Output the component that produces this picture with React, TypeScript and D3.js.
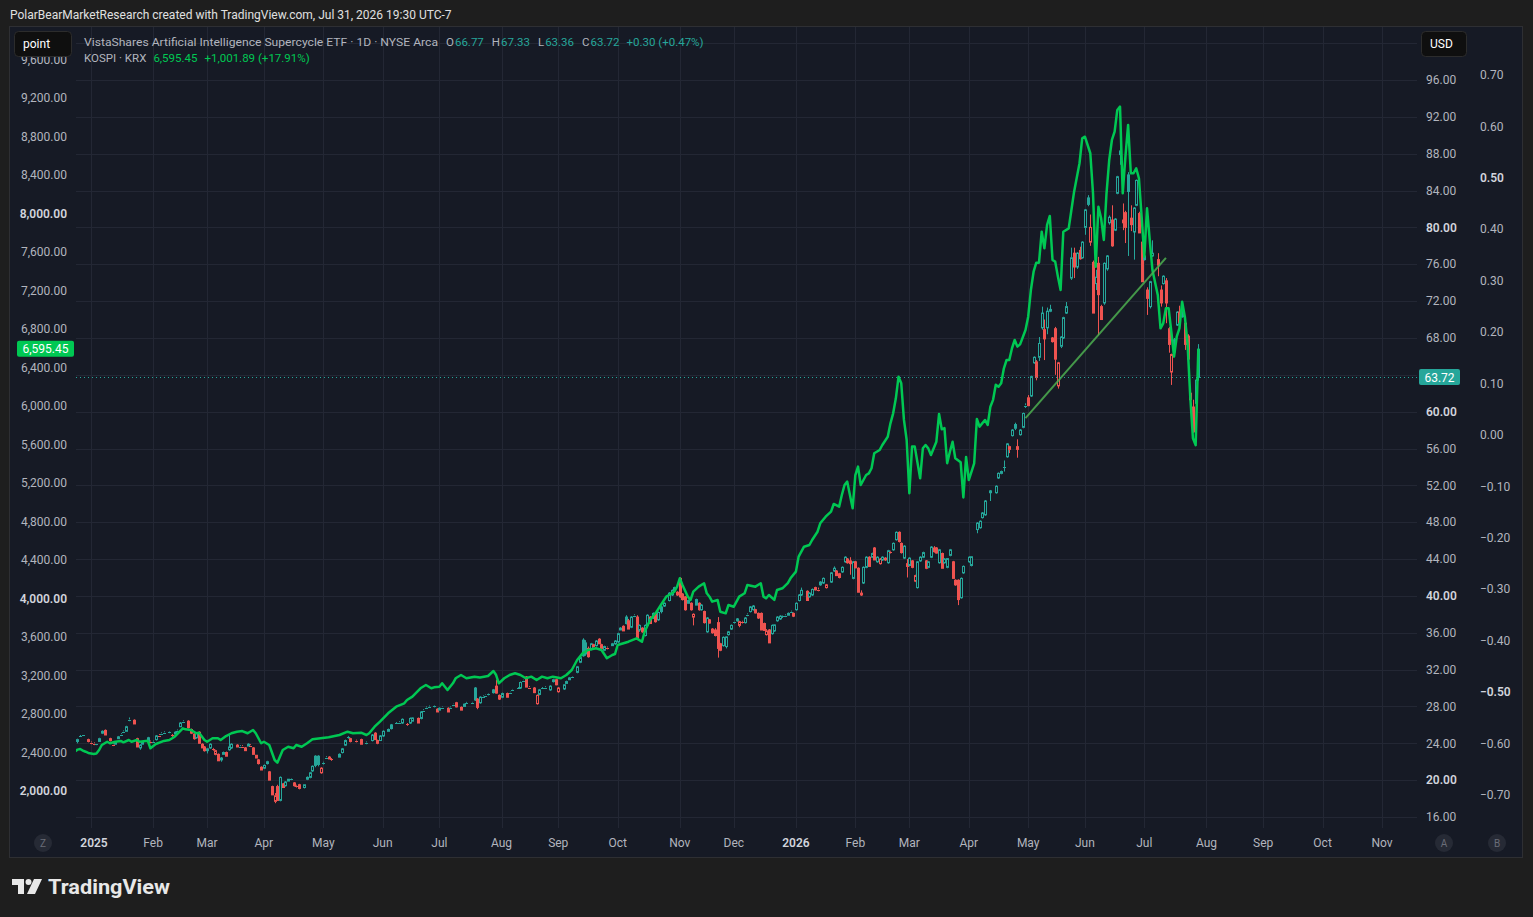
"use client";

import * as d3 from "d3";
import { useEffect, useRef } from "react";

// ETF daily bars: [session, open, high, low, close]
// session = weekday count from 2025-01-01 (bar position on the time axis)
const etfCandles: [number, number, number, number, number][] = [
  [-5, 24.2, 24.5, 24.0, 24.4], [-4, 24.7, 24.9, 24.7, 24.8], [-3, 24.8, 24.9, 24.8, 24.9],
  [-1, 24.4, 24.5, 24.1, 24.2], [0, 24.1, 24.2, 23.9, 24.0], [1, 24.0, 24.1, 23.8, 23.9],
  [2, 23.9, 24.0, 23.8, 24.0], [3, 24.2, 24.6, 24.2, 24.5], [4, 25.1, 25.4, 25.0, 25.3],
  [5, 25.4, 25.5, 24.9, 24.9], [7, 24.5, 24.6, 24.2, 24.3], [8, 23.9, 24.0, 23.7, 23.8],
  [9, 23.9, 24.2, 23.9, 24.1], [10, 24.5, 24.8, 24.5, 24.7], [11, 24.9, 25.1, 24.9, 25.0],
  [12, 25.2, 25.4, 25.2, 25.3], [13, 25.3, 25.9, 25.3, 25.8], [14, 26.5, 26.8, 26.4, 26.6],
  [16, 26.5, 26.6, 26.1, 26.1], [17, 24.5, 24.6, 23.6, 23.6], [18, 23.5, 23.9, 23.3, 23.8],
  [19, 23.9, 24.2, 23.9, 24.1], [21, 24.6, 24.7, 24.2, 24.2], [22, 24.2, 24.3, 24.0, 24.1],
  [23, 24.1, 24.3, 24.1, 24.2], [24, 24.4, 24.9, 24.3, 24.8], [25, 24.9, 25.0, 24.7, 24.75],
  [26, 25.1, 25.2, 24.9, 25.0], [27, 25.1, 25.3, 25.1, 25.2], [29, 25.2, 25.3, 25.1, 25.25],
  [30, 24.9, 25.0, 24.7, 24.8], [31, 25.0, 25.3, 25.0, 25.2], [32, 25.3, 25.5, 25.3, 25.4],
  [33, 25.8, 26.3, 25.8, 26.2], [34, 26.4, 26.5, 26.2, 26.3], [36, 26.4, 26.5, 25.6, 25.7],
  [37, 25.5, 25.6, 25.0, 25.1], [38, 25.0, 25.1, 24.4, 24.5], [39, 24.6, 25.2, 24.5, 25.1],
  [40, 25.2, 25.3, 24.0, 24.0], [41, 23.9, 24.0, 23.5, 23.5], [42, 23.6, 23.7, 23.1, 23.2],
  [43, 23.2, 23.5, 22.9, 23.4], [44, 23.5, 24.0, 23.4, 23.9], [45, 23.4, 23.5, 23.2, 23.3],
  [46, 22.8, 23.3, 22.7, 23.2], [47, 22.8, 22.9, 22.1, 22.1], [48, 22.2, 22.5, 22.0, 22.4],
  [49, 22.8, 23.1, 22.8, 23.0], [50, 23.0, 23.1, 22.6, 22.6], [51, 23.3, 24.9, 23.2, 23.6],
  [52, 23.5, 24.0, 23.4, 23.9], [54, 23.8, 23.9, 23.6, 23.6], [55, 23.6, 23.8, 23.6, 23.7],
  [56, 23.7, 23.8, 23.5, 23.55], [57, 23.5, 23.6, 23.2, 23.2], [58, 23.7, 24.0, 23.7, 23.9],
  [59, 23.8, 23.9, 23.6, 23.7], [60, 23.5, 23.6, 22.8, 22.8], [61, 22.7, 22.7, 22.4, 22.4],
  [62, 22.2, 22.3, 21.7, 21.8], [63, 21.4, 21.5, 21.1, 21.1], [64, 21.3, 21.7, 21.2, 21.6],
  [65, 21.8, 22.1, 21.7, 22.0], [66, 20.9, 21.0, 20.0, 20.0], [67, 19.3, 19.4, 18.4, 18.4],
  [68, 17.7, 18.6, 17.5, 18.3], [69, 19.3, 19.5, 17.8, 17.8], [70, 17.8, 20.4, 17.7, 20.3],
  [71, 19.6, 19.7, 19.2, 19.2], [72, 19.4, 19.9, 19.3, 19.8], [73, 19.9, 20.1, 19.9, 20.1],
  [74, 20.1, 20.2, 20.0, 20.15], [75, 19.7, 19.8, 19.3, 19.4], [76, 19.4, 19.5, 19.2, 19.35],
  [77, 19.5, 19.6, 19.0, 19.1], [79, 19.2, 19.5, 19.1, 19.5], [80, 20.1, 20.4, 20.0, 20.3],
  [81, 20.3, 20.9, 20.2, 20.8], [82, 21.0, 21.6, 20.9, 21.5], [83, 22.6, 22.7, 21.4, 21.6],
  [84, 22.6, 22.7, 21.5, 21.7], [85, 20.8, 21.4, 20.7, 21.3], [86, 21.8, 22.0, 21.7, 21.9],
  [87, 22.4, 22.6, 22.4, 22.5], [88, 22.5, 22.6, 22.3, 22.3], [89, 22.3, 22.4, 22.1, 22.2],
  [92, 22.8, 22.9, 22.5, 22.5], [93, 23.0, 23.5, 22.9, 23.4], [94, 23.8, 24.4, 23.7, 24.3],
  [95, 24.6, 24.8, 24.5, 24.7], [96, 24.5, 24.6, 24.1, 24.2], [98, 24.3, 24.4, 24.1, 24.15],
  [100, 24.4, 24.5, 23.9, 23.9], [102, 24.1, 24.2, 23.9, 24.0], [104, 24.3, 25.0, 24.2, 24.9],
  [105, 25.1, 25.2, 24.4, 24.4], [106, 24.3, 24.4, 23.9, 24.0], [107, 24.3, 24.9, 24.3, 24.8],
  [108, 24.8, 25.4, 24.7, 25.3], [110, 25.3, 25.6, 25.3, 25.5], [111, 26.0, 26.1, 25.5, 25.6],
  [113, 26.1, 26.3, 26.1, 26.2], [114, 26.2, 26.4, 26.2, 26.3], [115, 26.2, 26.7, 26.1, 26.6],
  [117, 26.1, 26.2, 25.9, 26.0], [118, 26.2, 26.8, 26.1, 26.7], [119, 26.4, 26.8, 26.4, 26.75],
  [121, 26.7, 26.8, 26.2, 26.2], [122, 26.7, 27.5, 26.6, 27.4], [123, 27.5, 27.7, 27.5, 27.6],
  [124, 27.8, 28.0, 27.8, 27.9], [125, 27.9, 28.1, 27.9, 28.0], [127, 28.0, 28.1, 27.9, 28.05],
  [128, 27.7, 27.8, 27.4, 27.4], [129, 27.6, 27.9, 27.6, 27.8], [130, 27.8, 28.0, 27.8, 27.95],
  [132, 27.8, 27.9, 27.4, 27.4], [133, 27.8, 28.0, 27.8, 27.9], [134, 28.1, 28.3, 28.1, 28.25],
  [135, 28.4, 28.5, 27.9, 27.95], [137, 27.9, 28.0, 27.6, 27.6], [138, 28.0, 28.3, 28.0, 28.25],
  [139, 28.3, 28.5, 28.3, 28.4], [141, 28.4, 28.5, 28.3, 28.45], [142, 30.0, 30.1, 28.6, 28.7],
  [143, 28.8, 28.9, 27.7, 27.9], [144, 28.4, 29.1, 28.3, 29.0], [145, 29.0, 29.2, 29.0, 29.1],
  [146, 29.1, 29.3, 29.1, 29.25], [147, 29.25, 29.4, 29.2, 29.35], [149, 29.8, 29.9, 29.4, 29.5],
  [150, 30.2, 30.9, 29.4, 29.45], [151, 29.2, 29.3, 28.7, 28.8], [152, 29.0, 29.5, 28.9, 29.4],
  [154, 29.4, 29.5, 29.0, 29.0], [155, 29.4, 29.6, 29.4, 29.55], [156, 29.7, 29.9, 29.7, 29.85],
  [158, 29.9, 30.1, 29.9, 30.0], [159, 30.0, 30.7, 29.9, 30.6], [160, 30.7, 30.9, 30.7, 30.85],
  [161, 31.2, 31.3, 30.1, 30.1], [162, 30.1, 30.2, 29.9, 30.0], [164, 30.0, 30.1, 29.45, 29.5],
  [165, 28.3, 29.3, 28.2, 29.2], [166, 29.3, 29.9, 29.2, 29.8], [167, 29.9, 30.1, 29.9, 30.0],
  [168, 30.0, 30.2, 30.0, 30.1], [170, 29.8, 30.3, 29.7, 30.2], [171, 30.7, 31.0, 30.6, 30.9],
  [172, 30.9, 31.0, 30.3, 30.35], [173, 29.6, 30.1, 29.5, 30.0], [175, 29.9, 30.4, 29.8, 30.35],
  [176, 30.5, 30.8, 30.5, 30.7], [177, 30.9, 31.2, 30.9, 31.1], [178, 31.1, 31.3, 31.1, 31.25],
  [180, 31.7, 32.4, 31.6, 32.3], [181, 32.8, 33.4, 32.7, 33.3], [182, 35.2, 35.4, 33.4, 33.5],
  [183, 34.9, 35.2, 33.5, 33.7], [184, 34.3, 34.5, 33.3, 33.4], [185, 34.2, 34.9, 34.1, 34.8],
  [186, 34.7, 34.8, 34.4, 34.5], [187, 34.6, 35.2, 34.5, 35.1], [188, 35.3, 35.4, 34.8, 34.8],
  [189, 34.7, 34.8, 34.3, 34.3], [190, 34.1, 34.6, 34.0, 34.5], [191, 34.4, 34.5, 34.2, 34.3],
  [193, 34.6, 34.9, 34.6, 34.8], [194, 34.8, 35.2, 34.7, 35.1], [195, 35.0, 36.0, 34.9, 35.9],
  [196, 36.3, 36.6, 36.3, 36.5], [197, 36.7, 36.8, 36.2, 36.2], [198, 37.7, 37.9, 36.9, 37.0],
  [199, 37.3, 37.5, 36.4, 36.4], [200, 36.6, 37.8, 36.5, 37.7], [201, 37.8, 38.0, 37.7, 37.9],
  [202, 37.7, 37.9, 35.4, 35.4], [203, 36.3, 36.9, 36.1, 36.8], [204, 36.5, 36.6, 36.0, 36.1],
  [205, 35.7, 36.9, 35.6, 36.8], [206, 36.8, 38.0, 36.7, 37.9], [207, 37.7, 37.8, 37.0, 37.0],
  [208, 37.6, 38.2, 37.5, 38.1], [209, 38.1, 38.2, 37.1, 37.2], [210, 37.4, 38.3, 37.3, 38.2],
  [211, 38.8, 38.9, 38.1, 38.3], [212, 38.9, 39.3, 38.8, 39.2], [214, 39.5, 40.4, 39.4, 40.3],
  [215, 40.1, 40.7, 40.0, 40.6], [216, 40.6, 41.0, 40.5, 40.9], [217, 40.4, 40.5, 40.0, 40.1],
  [218, 41.9, 42.0, 39.8, 39.9], [219, 40.2, 40.3, 39.5, 39.6], [220, 39.9, 40.0, 38.4, 38.5],
  [221, 39.5, 39.6, 39.2, 39.2], [222, 39.2, 39.3, 38.4, 38.5], [223, 37.7, 38.1, 36.8, 38.0],
  [224, 39.6, 39.7, 39.0, 39.0], [225, 39.2, 39.3, 38.4, 38.5], [226, 38.5, 39.1, 38.4, 39.0],
  [227, 38.3, 38.4, 37.0, 37.1], [228, 36.1, 37.7, 36.0, 37.6], [229, 37.4, 37.5, 37.0, 37.05],
  [230, 36.4, 36.5, 35.9, 36.0], [231, 36.3, 36.5, 35.6, 35.7], [232, 37.1, 37.7, 33.3, 34.3],
  [233, 34.8, 34.9, 34.0, 34.1], [234, 34.6, 35.6, 34.5, 35.5], [235, 34.5, 35.6, 34.3, 35.55],
  [236, 35.8, 36.2, 35.7, 36.1], [237, 36.4, 36.9, 36.3, 36.8], [238, 37.1, 37.3, 37.0, 37.25],
  [239, 37.5, 37.6, 37.2, 37.3], [240, 36.8, 37.3, 36.6, 37.2], [241, 37.2, 37.3, 37.0, 37.05],
  [242, 37.1, 37.7, 37.0, 37.6], [243, 37.9, 38.1, 37.8, 38.0], [244, 38.3, 38.9, 38.2, 38.8],
  [245, 38.5, 39.0, 38.4, 38.9], [246, 38.5, 38.6, 38.1, 38.15], [247, 38.1, 38.2, 37.5, 37.6],
  [248, 38.1, 38.2, 36.3, 36.3], [249, 37.0, 37.1, 36.2, 36.25], [250, 35.8, 36.4, 35.7, 36.2],
  [251, 36.3, 36.4, 34.9, 34.9], [252, 35.9, 36.9, 35.8, 36.8], [253, 36.2, 36.9, 36.1, 36.85],
  [254, 37.3, 37.8, 37.2, 37.7], [255, 37.5, 37.9, 37.4, 37.8], [256, 37.7, 37.9, 37.6, 37.85],
  [257, 37.8, 38.0, 37.7, 37.9], [258, 37.9, 38.2, 37.9, 38.1], [259, 38.2, 38.4, 38.2, 38.3],
  [260, 38.1, 38.2, 37.7, 37.8], [261, 38.5, 39.3, 38.4, 39.2], [262, 39.5, 40.2, 39.4, 40.1],
  [263, 40.1, 40.9, 40.0, 40.6], [265, 40.5, 40.6, 39.5, 39.5], [266, 39.9, 40.4, 39.8, 40.3],
  [267, 40.1, 40.8, 40.0, 40.7], [268, 40.9, 41.0, 40.6, 40.65], [269, 40.7, 40.9, 40.5, 40.6],
  [270, 41.5, 41.6, 41.1, 41.2], [271, 41.4, 42.0, 41.3, 41.9], [272, 40.9, 41.3, 40.8, 41.2],
  [274, 41.5, 42.6, 41.4, 42.5], [275, 42.7, 43.2, 42.6, 43.0], [276, 42.7, 42.8, 42.2, 42.2],
  [277, 42.4, 42.5, 41.9, 42.0], [278, 42.6, 43.2, 42.5, 43.1], [279, 43.7, 44.3, 43.6, 44.2],
  [280, 44.0, 44.1, 43.5, 43.6], [281, 43.8, 44.2, 42.3, 43.5], [282, 41.9, 43.8, 41.8, 43.7],
  [283, 43.7, 43.8, 43.0, 43.05], [284, 43.0, 43.1, 40.4, 40.4], [285, 40.1, 40.6, 40.0, 40.3],
  [286, 41.4, 43.2, 41.3, 43.1], [287, 43.1, 44.3, 43.0, 44.2], [288, 44.2, 44.3, 43.2, 43.2],
  [289, 44.2, 44.7, 44.1, 44.6], [290, 45.2, 45.3, 43.9, 43.9], [291, 43.7, 44.3, 43.6, 44.2],
  [292, 43.5, 44.1, 43.4, 44.0], [293, 43.9, 44.3, 43.8, 44.2], [294, 44.1, 44.2, 43.8, 43.9],
  [295, 43.6, 45.0, 43.5, 44.9], [296, 44.8, 44.9, 44.6, 44.7], [297, 45.0, 45.8, 44.9, 45.7],
  [298, 46.1, 47.0, 46.0, 46.9], [299, 46.9, 47.0, 45.8, 45.9], [300, 45.7, 45.8, 44.6, 44.7],
  [301, 44.1, 45.5, 44.0, 45.4], [302, 43.5, 44.0, 42.0, 43.2], [303, 43.3, 44.2, 43.2, 44.1],
  [304, 43.8, 43.9, 43.0, 43.1], [305, 41.6, 42.3, 41.5, 42.2], [306, 40.9, 43.8, 40.8, 43.7],
  [307, 43.8, 44.3, 43.7, 44.2], [308, 44.2, 44.8, 44.1, 44.7], [309, 43.8, 43.9, 42.9, 43.0],
  [310, 43.1, 43.8, 43.0, 43.7], [311, 44.2, 45.4, 44.1, 45.3], [312, 45.2, 45.4, 44.7, 44.8],
  [313, 45.2, 45.3, 44.6, 44.65], [314, 43.6, 45.1, 43.5, 45.0], [315, 44.6, 44.7, 43.0, 43.0],
  [316, 43.6, 44.1, 43.5, 44.0], [317, 43.1, 44.1, 43.0, 44.05], [318, 44.4, 45.1, 44.3, 45.0],
  [319, 43.7, 43.8, 41.9, 41.9], [320, 41.7, 41.8, 41.1, 41.2], [321, 41.7, 41.8, 39.0, 39.6],
  [322, 39.8, 42.0, 39.7, 41.9], [323, 42.5, 43.3, 42.4, 43.2], [325, 43.7, 44.3, 43.6, 44.2],
  [326, 43.3, 44.3, 43.2, 44.25], [328, 47.2, 48.0, 46.8, 47.9], [329, 47.4, 48.2, 47.3, 48.1],
  [330, 48.5, 49.1, 48.4, 49.0], [331, 48.8, 50.4, 48.7, 50.3], [333, 51.4, 51.5, 50.3, 51.2],
  [335, 51.2, 52.0, 51.1, 51.9], [336, 52.8, 53.4, 52.7, 53.3], [337, 53.3, 53.6, 53.2, 53.5],
  [338, 53.9, 54.7, 53.5, 54.0], [339, 55.1, 56.6, 55.0, 56.5], [340, 55.9, 56.3, 55.5, 56.2],
  [341, 57.4, 58.1, 57.3, 58.0], [342, 58.6, 58.8, 58.0, 58.2], [343, 56.2, 57.0, 55.0, 55.9],
  [344, 57.5, 58.1, 57.4, 58.0], [345, 58.3, 59.9, 58.2, 59.8], [346, 60.6, 60.9, 60.4, 60.7],
  [347, 61.5, 61.8, 60.6, 60.65], [348, 61.7, 63.9, 61.6, 63.8], [349, 65.3, 66.0, 65.2, 65.9],
  [350, 65.4, 65.6, 63.4, 63.7], [351, 65.9, 68.1, 65.5, 67.4], [352, 69.1, 71.4, 68.9, 70.7],
  [353, 68.9, 70.0, 65.6, 67.9], [354, 69.1, 71.3, 68.4, 70.9], [355, 70.9, 71.6, 70.8, 71.1],
  [356, 68.0, 68.1, 67.5, 67.6], [357, 69.0, 69.2, 64.0, 65.7], [358, 62.8, 65.4, 62.5, 65.3],
  [359, 67.1, 68.2, 66.9, 68.1], [360, 68.0, 70.3, 67.9, 70.2], [361, 70.7, 71.9, 70.6, 71.4],
  [363, 74.5, 77.8, 74.3, 76.7], [364, 77.2, 77.8, 74.5, 75.7], [365, 75.7, 77.3, 75.5, 77.2],
  [366, 77.5, 77.9, 76.5, 76.6], [367, 76.7, 78.5, 76.6, 78.4], [368, 80.0, 82.0, 79.2, 81.9],
  [369, 83.2, 83.5, 82.3, 82.5], [370, 78.4, 81.4, 78.0, 80.0], [371, 76.2, 76.4, 70.7, 70.7],
  [372, 73.9, 75.4, 73.2, 74.6], [373, 76.1, 76.8, 68.3, 72.7], [374, 71.4, 71.6, 70.0, 70.0],
  [375, 71.8, 76.2, 71.6, 76.1], [376, 75.5, 77.0, 75.3, 76.9], [377, 80.5, 81.3, 80.3, 81.1],
  [378, 80.8, 82.4, 77.9, 78.0], [379, 79.7, 81.0, 79.6, 80.9], [380, 83.7, 85.6, 83.6, 85.5],
  [381, 88.3, 88.8, 86.8, 87.9], [382, 80.8, 82.6, 79.7, 80.5], [383, 81.6, 81.8, 78.3, 80.0],
  [384, 85.7, 86.0, 76.9, 83.9], [385, 81.0, 82.4, 79.6, 80.3], [386, 79.5, 82.2, 76.5, 82.1],
  [387, 82.4, 85.2, 82.3, 85.1], [388, 81.5, 81.7, 79.4, 79.4], [389, 78.4, 78.6, 74.1, 74.1],
  [390, 76.9, 78.7, 76.4, 76.5], [391, 73.2, 73.5, 70.5, 72.3], [392, 71.4, 74.2, 71.2, 74.1],
  [393, 76.9, 78.6, 76.8, 77.2], [395, 76.5, 77.2, 74.7, 75.9], [396, 73.2, 73.7, 71.4, 71.8],
  [397, 73.9, 74.8, 73.8, 74.7], [398, 74.2, 74.5, 69.6, 71.8], [399, 69.0, 69.2, 66.4, 67.3],
  [400, 64.3, 66.3, 62.9, 66.2], [401, 67.8, 68.0, 66.5, 66.5], [402, 69.4, 70.9, 69.3, 70.8],
  [403, 70.8, 71.5, 69.2, 69.7], [404, 70.8, 71.0, 70.2, 70.3], [405, 69.6, 69.9, 66.7, 67.3],
  [406, 68.2, 68.4, 64.2, 65.7], [407, 62.0, 62.3, 61.3, 61.3], [408, 60.5, 61.3, 57.7, 57.8],
  [409, 60.9, 63.6, 60.5, 63.42], [410, 66.77, 67.33, 63.36, 63.72],
];

// KOSPI closes: [session, close]
const kospiCloses: [number, number][] = [
  [-6, 2410], [-5, 2430], [-4, 2436], [-3, 2420], [-2, 2408], [-1, 2395], [1, 2385], [2, 2390],
  [3, 2426], [4, 2478], [6, 2512], [7, 2496], [9, 2512], [11, 2520], [12, 2506], [14, 2530],
  [15, 2512], [17, 2530], [18, 2512], [21, 2523], [22, 2444], [24, 2488], [27, 2520], [29, 2530],
  [31, 2564], [34, 2651], [35, 2641], [37, 2634], [39, 2600], [40, 2606], [42, 2530], [43, 2512],
  [45, 2548], [47, 2548], [48, 2530], [50, 2571], [52, 2600], [54, 2616], [56, 2623], [58, 2600],
  [60, 2634], [61, 2600], [63, 2496], [64, 2512], [66, 2478], [68, 2322], [69, 2294], [71, 2426],
  [73, 2460], [75, 2444], [76, 2478], [78, 2460], [80, 2496], [82, 2537], [85, 2548], [88, 2558],
  [92, 2582], [95, 2616], [97, 2600], [100, 2606], [102, 2582], [103, 2600], [105, 2668], [107, 2720],
  [110, 2807], [113, 2876], [116, 2911], [117, 2946], [119, 2980], [122, 3067], [124, 3101], [126, 3067],
  [127, 3077], [129, 3084], [130, 3119], [132, 3049], [134, 3119], [135, 3171], [137, 3205], [139, 3171],
  [142, 3188], [144, 3180], [147, 3195], [149, 3247], [150, 3205], [151, 3119], [153, 3171], [155, 3205],
  [157, 3223], [159, 3205], [161, 3171], [163, 3188], [165, 3153], [167, 3188], [169, 3171], [171, 3188],
  [174, 3171], [176, 3205], [178, 3257], [180, 3361], [182, 3430], [184, 3465], [187, 3483], [189, 3465],
  [190, 3423], [191, 3379], [193, 3413], [194, 3423], [195, 3517], [199, 3551], [202, 3586], [204, 3551],
  [205, 3655], [207, 3777], [209, 3846], [211, 3932], [213, 4019], [214, 4036], [216, 4071], [217, 4123],
  [218, 4210], [219, 4140], [221, 4019], [222, 3985], [223, 4071], [225, 4123], [227, 4158], [228, 4054],
  [229, 4019], [230, 3967], [232, 3985], [233, 3863], [235, 3846], [236, 3932], [238, 3915], [240, 4019],
  [242, 4054], [243, 4140], [246, 4123], [248, 4158], [249, 4019], [250, 4002], [251, 4036], [253, 3985],
  [254, 4088], [256, 4106], [258, 4160], [259, 4210], [261, 4279], [262, 4435], [264, 4538], [266, 4556],
  [267, 4608], [269, 4694], [270, 4781], [272, 4850], [274, 4902], [275, 4982], [277, 4954], [278, 5075],
  [279, 5179], [280, 5214], [282, 4937], [283, 5283], [284, 5370], [285, 5179], [287, 5283], [288, 5300],
  [289, 5353], [290, 5509], [292, 5543], [293, 5595], [295, 5681], [296, 5820], [297, 5924], [298, 6080],
  [299, 6305], [300, 6236], [301, 5855], [302, 5647], [303, 5093], [304, 5578], [305, 5578], [307, 5249],
  [308, 5561], [309, 5595], [310, 5560], [311, 5491], [313, 5629], [314, 5917], [315, 5758], [316, 5770],
  [317, 5405], [318, 5525], [319, 5629], [320, 5457], [322, 5415], [323, 5050], [324, 5470], [325, 5231],
  [327, 5405], [328, 5865], [329, 5786], [331, 5855], [332, 5803], [333, 5993], [334, 6064], [335, 6220],
  [336, 6200], [337, 6236], [338, 6392], [339, 6478], [340, 6478], [341, 6600], [342, 6686], [343, 6617],
  [344, 6640], [346, 6790], [347, 6928], [348, 7205], [349, 7395], [350, 7489], [351, 7489], [352, 7811],
  [353, 7638], [354, 7881], [355, 7975], [356, 7517], [357, 7500], [358, 7344], [359, 7205], [360, 7811],
  [362, 7846], [363, 8036], [364, 8227], [366, 8522], [367, 8781], [368, 8798], [370, 8626], [371, 8210],
  [372, 7448], [373, 8071], [374, 7950], [375, 7725], [376, 8210], [377, 8556], [378, 8764], [379, 8850],
  [380, 9076], [381, 9110], [382, 8210], [383, 8590], [384, 8920], [385, 8418], [386, 8418], [387, 8470],
  [388, 8366], [389, 7967], [390, 7552], [391, 8054], [392, 7725], [393, 7413], [395, 7150], [396, 6807],
  [397, 6859], [398, 7015], [399, 7015], [400, 6772], [401, 6513], [402, 6721], [403, 6807], [404, 7084],
  [405, 6928], [406, 6651], [407, 6100], [408, 5665], [409, 5593.56], [410, 6595.45],
];

// hand-drawn trend line on the ETF: [session, price]
const trendLine: [number, number][] = [[346, 59.3], [398, 76.7]];

const monthStarts = [
  "2025-01-01", "2025-02-01", "2025-03-01", "2025-04-01", "2025-05-01", "2025-06-01",
  "2025-07-01", "2025-08-01", "2025-09-01", "2025-10-01", "2025-11-01", "2025-12-01",
  "2026-01-01", "2026-02-01", "2026-03-01", "2026-04-01", "2026-05-01", "2026-06-01",
  "2026-07-01", "2026-08-01", "2026-09-01", "2026-10-01", "2026-11-01",
];
const kospiTicks = [2000, 2400, 2800, 3200, 3600, 4000, 4400, 4800, 5200, 5600, 6000, 6400, 6800, 7200, 7600, 8000, 8400, 8800, 9200, 9600];
const usdTicks = [16, 20, 24, 28, 32, 36, 40, 44, 48, 52, 56, 60, 64, 68, 72, 76, 80, 84, 88, 92, 96, 100];
const pctTicks = [0.7, 0.6, 0.5, 0.4, 0.3, 0.2, 0.1, 0, -0.1, -0.2, -0.3, -0.4, -0.5, -0.6, -0.7];

const credit = "PolarBearMarketResearch created with TradingView.com, Jul 31, 2026 19:30 UTC-7";
const etfTitle = "VistaShares Artificial Intelligence Supercycle ETF · 1D · NYSE Arca";
const kospiTitle = "KOSPI · KRX";

const W = 1533;
const H = 917;
const plot = { left: 76, top: 27, right: 1417, bottom: 830 };
const FONT = "Roboto, 'Noto Sans', sans-serif";
const BG = "#1e1e1e";
const CHART_BG = "#161a25";
const GRID = "#232734";
const TEXT = "#b2b5be";
const UP = "#26a69a";
const DOWN = "#ef5350";
const GREEN = "#00c853";

const origin = new Date(Date.UTC(2025, 0, 1));
const isWeekday = (d: Date) => d.getUTCDay() % 6 !== 0;
function sessionOf(iso: string) {
  let d = new Date(iso + "T00:00:00Z");
  while (!isWeekday(d)) d = d3.utcDay.offset(d, 1);
  return d3.utcDay.range(origin, d).filter(isWeekday).length;
}

export default function App() {
  const ref = useRef<SVGSVGElement | null>(null);

  useEffect(() => {
    document.body.style.margin = "0";
    const svg = d3.select(ref.current!);
    svg.selectAll("*").remove();
    svg.attr("width", W).attr("height", H).style("display", "block").style("font-family", FONT);

    // Scales
    const x = d3
      .scaleLinear()
      .domain([sessionOf("2025-01-01"), sessionOf("2026-11-01")])
      .range([91, 1382]);
    const yUsd = d3.scaleLinear().domain([16, 96]).range([817, 80]);
    const yKospi = d3.scaleLinear().domain([2000, 9200]).range([791, 98]);
    const yPct = d3.scaleLinear().domain([-0.7, 0.7]).range([795, 75]);

    const fmt2 = d3.format(",.2f");
    const last = etfCandles[etfCandles.length - 1];
    const prevEtf = etfCandles[etfCandles.length - 2][4];
    const kLast = kospiCloses[kospiCloses.length - 1][1];
    const kPrev = kospiCloses[kospiCloses.length - 2][1];

    // Background and frame
    svg.append("rect").attr("width", W).attr("height", H).attr("fill", BG);
    svg
      .append("text")
      .attr("x", 10)
      .attr("y", 19)
      .attr("fill", "#e0e0e0")
      .attr("font-size", 12)
      .text(credit);
    svg
      .append("rect")
      .attr("x", 9.5)
      .attr("y", 26.5)
      .attr("width", 1513)
      .attr("height", 831)
      .attr("fill", CHART_BG)
      .attr("stroke", "#2e2f33");

    svg
      .append("defs")
      .append("clipPath")
      .attr("id", "plot-clip")
      .append("rect")
      .attr("x", plot.left)
      .attr("y", plot.top)
      .attr("width", plot.right - plot.left)
      .attr("height", plot.bottom - plot.top);

    // Grid
    const grid = svg.append("g").attr("stroke", GRID).attr("stroke-width", 1);
    usdTicks.forEach((t) => {
      const y = Math.round(yUsd(t)) + 0.5;
      grid.append("line").attr("x1", plot.left).attr("x2", plot.right).attr("y1", y).attr("y2", y);
    });
    monthStarts.forEach((m) => {
      const xx = Math.round(x(sessionOf(m))) + 0.5;
      grid.append("line").attr("x1", xx).attr("x2", xx).attr("y1", plot.top).attr("y2", plot.bottom - 2);
    });

    // Candles (hollow style: colour vs previous close, hollow when close > open)
    const gCandles = svg.append("g").attr("clip-path", "url(#plot-clip)");
    etfCandles.forEach((d, i) => {
      const [s, o, h, l, c] = d;
      const prev = i > 0 ? etfCandles[i - 1][4] : o;
      const color = c >= prev ? UP : DOWN;
      const cx = Math.round(x(s)) + 0.5;
      const top = yUsd(Math.max(o, c));
      const bot = yUsd(Math.min(o, c));
      gCandles
        .append("line")
        .attr("x1", cx)
        .attr("x2", cx)
        .attr("y1", yUsd(h))
        .attr("y2", top)
        .attr("stroke", color);
      gCandles
        .append("line")
        .attr("x1", cx)
        .attr("x2", cx)
        .attr("y1", bot)
        .attr("y2", yUsd(l))
        .attr("stroke", color);
      if (bot - top < 1.5) {
        gCandles
          .append("line")
          .attr("x1", cx - 1.5)
          .attr("x2", cx + 1.5)
          .attr("y1", Math.round((top + bot) / 2) + 0.5)
          .attr("y2", Math.round((top + bot) / 2) + 0.5)
          .attr("stroke", color);
      } else {
        gCandles
          .append("rect")
          .attr("x", cx - 1)
          .attr("width", 2)
          .attr("y", top)
          .attr("height", bot - top)
          .attr("fill", c > o ? CHART_BG : color)
          .attr("stroke", color)
          .attr("stroke-width", 1);
      }
    });

    // KOSPI compare line
    const kospiLine = d3
      .line<[number, number]>()
      .x((d) => x(d[0]))
      .y((d) => yKospi(d[1]));
    svg
      .append("path")
      .attr("clip-path", "url(#plot-clip)")
      .attr("d", kospiLine(kospiCloses))
      .attr("fill", "none")
      .attr("stroke", GREEN)
      .attr("stroke-width", 2.5)
      .attr("stroke-linejoin", "round");

    // Trend line drawing
    svg
      .append("line")
      .attr("x1", x(trendLine[0][0]))
      .attr("y1", yUsd(trendLine[0][1]))
      .attr("x2", x(trendLine[1][0]))
      .attr("y2", yUsd(trendLine[1][1]))
      .attr("stroke", "#4caf50")
      .attr("stroke-opacity", 0.85)
      .attr("stroke-width", 2);

    // Last price line
    const yLast = Math.round(yUsd(last[4])) + 0.5;
    svg
      .append("line")
      .attr("x1", plot.left)
      .attr("x2", plot.right)
      .attr("y1", yLast)
      .attr("y2", yLast)
      .attr("stroke", UP)
      .attr("stroke-dasharray", "1,3");

    // Left KOSPI scale
    const gLeft = svg.append("g").attr("font-size", 12).attr("text-anchor", "end");
    kospiTicks.forEach((t) => {
      const strong = t % 4000 === 0 || t === 2000;
      gLeft
        .append("text")
        .attr("x", 67)
        .attr("y", yKospi(t))
        .attr("dy", "0.35em")
        .attr("fill", strong ? "#d1d4dc" : TEXT)
        .attr("font-weight", strong ? 600 : 400)
        .text(fmt2(t));
    });
    const yKL = yKospi(kLast);
    svg.append("rect").attr("x", 17).attr("y", yKL - 8).attr("width", 57).attr("height", 16).attr("rx", 2).attr("fill", GREEN);
    svg
      .append("text")
      .attr("x", 45.5)
      .attr("y", yKL)
      .attr("dy", "0.35em")
      .attr("text-anchor", "middle")
      .attr("font-size", 12)
      .attr("fill", "#ffffff")
      .text(fmt2(kLast));

    // Right USD scale (labels under the USD button and the last-price tag are hidden)
    const gRight = svg.append("g").attr("font-size", 12);
    usdTicks.forEach((t) => {
      const y = yUsd(t);
      if (Math.abs(y - yLast) < 12 || y < 62) return;
      gRight
        .append("text")
        .attr("x", 1426)
        .attr("y", y)
        .attr("dy", "0.35em")
        .attr("fill", t % 20 === 0 ? "#d1d4dc" : TEXT)
        .attr("font-weight", t % 20 === 0 ? 600 : 400)
        .text(fmt2(t));
    });
    svg.append("rect").attr("x", 1419).attr("y", yLast - 8.5).attr("width", 41).attr("height", 16).attr("rx", 2).attr("fill", UP);
    svg
      .append("text")
      .attr("x", 1439.5)
      .attr("y", yLast)
      .attr("dy", "0.35em")
      .attr("text-anchor", "middle")
      .attr("font-size", 12)
      .attr("fill", "#ffffff")
      .text(fmt2(last[4]));

    // Right percent scale
    const fmtPct = d3.format(".2f");
    pctTicks.forEach((t) => {
      const bold = Math.abs(Math.abs(t) - 0.5) < 1e-9;
      gRight
        .append("text")
        .attr("x", 1480)
        .attr("y", yPct(t))
        .attr("dy", "0.35em")
        .attr("fill", bold ? "#d1d4dc" : TEXT)
        .attr("font-weight", bold ? 600 : 400)
        .text(fmtPct(t));
    });

    // Time axis
    const gTime = svg.append("g").attr("font-size", 12).attr("text-anchor", "middle");
    monthStarts.forEach((m) => {
      const isYear = m.endsWith("-01-01");
      gTime
        .append("text")
        .attr("x", x(sessionOf(m)) + (m === "2025-01-01" ? 3 : 0))
        .attr("y", 843)
        .attr("dy", "0.35em")
        .attr("fill", isYear ? "#d1d4dc" : TEXT)
        .attr("font-weight", isYear ? 600 : 400)
        .text(isYear ? m.slice(0, 4) : d3.utcFormat("%b")(new Date(m + "T00:00:00Z")));
    });
    (
      [
        ["Z", 43],
        ["A", 1444],
        ["B", 1497],
      ] as [string, number][]
    ).forEach(([label, cx]) => {
      svg.append("circle").attr("cx", cx).attr("cy", 843).attr("r", 9).attr("fill", "#262a35");
      svg
        .append("text")
        .attr("x", cx)
        .attr("y", 843)
        .attr("dy", "0.35em")
        .attr("text-anchor", "middle")
        .attr("font-size", 10)
        .attr("fill", "#6a6d78")
        .text(label);
    });

    // Buttons
    const button = (bx: number, w: number, label: string) => {
      svg
        .append("rect")
        .attr("x", bx + 0.5)
        .attr("y", 31.5)
        .attr("width", w)
        .attr("height", 25)
        .attr("rx", 4)
        .attr("fill", "#0f0f0f")
        .attr("stroke", "#2c2c2c");
      svg
        .append("text")
        .attr("x", bx + 9)
        .attr("y", 44)
        .attr("dy", "0.35em")
        .attr("font-size", 12)
        .attr("fill", "#ffffff")
        .text(label);
    };
    button(14, 57, "point");
    button(1421, 45, "USD");

    // Legend: pieces chained left to right with measured widths
    const legend = svg.append("g").attr("font-size", 11.5);
    const chain = (start: number, ly: number, parts: [string, string, number][]) => {
      let cx = start;
      parts.forEach(([t, color, gap]) => {
        const node = legend
          .append("text")
          .attr("x", cx)
          .attr("y", ly)
          .attr("dy", "0.35em")
          .attr("fill", color)
          .text(t)
          .node() as SVGTextElement;
        cx += node.getComputedTextLength() + gap;
      });
    };
    legend
      .append("text")
      .attr("x", 84)
      .attr("y", 42)
      .attr("dy", "0.35em")
      .attr("fill", TEXT)
      .attr("textLength", 354)
      .attr("lengthAdjust", "spacingAndGlyphs")
      .text(etfTitle);
    const etfColor = last[4] >= prevEtf ? UP : DOWN;
    const etfChg = last[4] - prevEtf;
    chain(446, 42, [
      ["O", TEXT, 1],
      [fmt2(last[1]), etfColor, 8],
      ["H", TEXT, 1],
      [fmt2(last[2]), etfColor, 8],
      ["L", TEXT, 1],
      [fmt2(last[3]), etfColor, 8],
      ["C", TEXT, 1],
      [fmt2(last[4]), etfColor, 7],
      [`${d3.format("+.2f")(etfChg)} (${d3.format("+.2f")((etfChg / prevEtf) * 100)}%)`, etfColor, 0],
    ]);
    const kChg = kLast - kPrev;
    chain(84, 58, [
      [kospiTitle, TEXT, 7],
      [fmt2(kLast), GREEN, 7],
      [`${d3.format("+,.2f")(kChg)} (${d3.format("+.2f")((kChg / kPrev) * 100)}%)`, GREEN, 0],
    ]);

    // TradingView logo
    const logo = svg.append("g").attr("fill", "#e8e8e8");
    logo.append("path").attr("d", "M12 879 H24 V894 H18 V885 H12 Z");
    logo.append("circle").attr("cx", 28.5).attr("cy", 882).attr("r", 3);
    logo.append("path").attr("d", "M34 879 H42 L35 894 H27 Z");
    svg
      .append("text")
      .attr("x", 48)
      .attr("y", 894)
      .attr("font-size", 20)
      .attr("font-weight", 700)
      .attr("fill", "#e8e8e8")
      .attr("textLength", 122)
      .attr("lengthAdjust", "spacingAndGlyphs")
      .text("TradingView");
  }, [ref]);

  return <svg ref={ref} />;
}
